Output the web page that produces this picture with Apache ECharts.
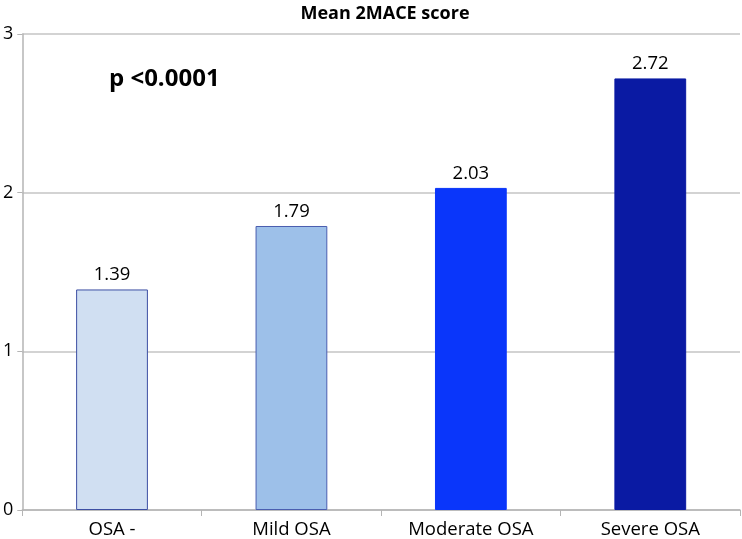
<!DOCTYPE html>
<html><head><meta charset="utf-8">
<script src="https://cdn.jsdelivr.net/npm/echarts@6/dist/echarts.min.js"></script>
<style>html,body{margin:0;padding:0;background:#fff}#c{width:742px;height:539px}</style>
</head><body><div id="c"></div>
<script>
const categories = ["OSA -", "Mild OSA", "Moderate OSA", "Severe OSA"];
const values = [1.39, 1.79, 2.03, 2.72];
const yTicks = [0, 1, 2, 3];
const barColors = ["#d0dff2", "#9dc0e9", "#0a36fa", "#0a1aa3"];
const borderColors = ["#3d4fa3", "#4a5eb0", "#0a36fa", "#0a1aa3"];
const FONT = "'Open Sans', 'Noto Sans', sans-serif";

const chart = echarts.init(document.getElementById('c'));
chart.setOption({
  animation: false,
  textStyle: {fontFamily: FONT},
  title: [
    {text: "Mean 2MACE score", left: 380, top: 0, textAlign: 'center',
     textStyle: {fontSize: 18, fontWeight: 'bold', color: '#000', fontFamily: FONT}},
    {text: "p <0.0001", left: 104, top: 62,
     textStyle: {fontSize: 24, fontWeight: 'bold', color: '#000', fontFamily: FONT}}
  ],
  grid: {left: 21, right: 2, top: 34, bottom: 29, containLabel: false},
  xAxis: {
    type: 'category', data: categories,
    axisLine: {lineStyle: {color: '#b5b5b5', width: 1.5}},
    axisTick: {show: true, alignWithLabel: false, length: 6, lineStyle: {color: '#b5b5b5'}},
    axisLabel: {color: '#000', fontSize: 18.5, margin: 10, fontFamily: FONT}
  },
  yAxis: {
    type: 'value', min: yTicks[0], max: yTicks[yTicks.length - 1], interval: 1,
    axisLine: {show: true, lineStyle: {color: '#b5b5b5', width: 1.5}},
    axisTick: {show: true, length: 5, lineStyle: {color: '#b5b5b5'}},
    splitLine: {lineStyle: {color: '#c4c4c4', width: 1.5}},
    axisLabel: {color: '#000', fontSize: 18, margin: 9, fontFamily: FONT}
  },
  series: [{
    type: 'bar', barWidth: '40%',
    data: values.map((v, i) => ({value: v, itemStyle: {color: barColors[i], borderColor: borderColors[i], borderWidth: 1}})),
    label: {show: true, position: 'top', distance: 5, color: '#000', fontSize: 18.5, fontFamily: FONT,
            formatter: p => p.value.toFixed(2)}
  }]
});
</script></body></html>
